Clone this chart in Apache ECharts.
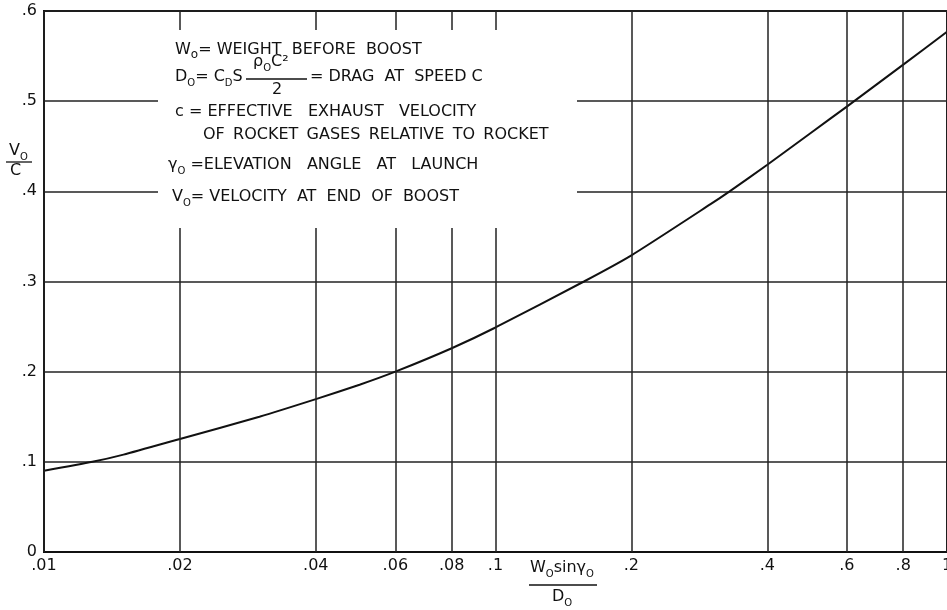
<!DOCTYPE html>
<html><head><meta charset="utf-8">
<script src="https://cdn.jsdelivr.net/npm/echarts@6/dist/echarts.min.js"></script>
<style>html,body{margin:0;padding:0;background:#fff}#c{width:947px;height:610px}</style>
</head><body><div id="c"></div>
<script>
// ---- data ----
const curveX = [0.01, 0.0128, 0.015, 0.02, 0.03, 0.04, 0.05, 0.06, 0.08, 0.1, 0.157, 0.2, 0.3, 0.33, 0.4, 0.5, 0.6, 0.8, 1.0];
const curveY = [0.090, 0.100, 0.108, 0.1254, 0.150, 0.1695, 0.1855, 0.200, 0.226, 0.249, 0.300, 0.329, 0.386, 0.400, 0.4295, 0.465, 0.494, 0.5405, 0.577];
const gridX = [0.01, 0.02, 0.04, 0.06, 0.08, 0.1, 0.2, 0.4, 0.6, 0.8, 1];
const xTickLabels = ['.01', '.02', '.04', '.06', '.08', '.1', '.2', '.4', '.6', '.8', '1'];
const yTickLabels = ['0', '.1', '.2', '.3', '.4', '.5', '.6'];

const FONT = 'DejaVu Sans';
const INK = '#111';
const rich = {
  n: { fontSize: 16, fontFamily: FONT, color: INK },
  s: { fontSize: 10, fontFamily: FONT, color: INK, padding: [12, 0, 0, 0] },
  w: { fontSize: 12, fontFamily: FONT, color: INK, padding: [10, 0, 0, 0] }
};
function txt(x, y, text, align) {
  return { type: 'text', x: x, y: y, z: 101,
    style: { text: text, rich: rich, fontSize: 16, fontFamily: FONT, fill: INK, align: align || 'left', verticalAlign: 'middle' } };
}
function bar(x1, x2, y) {
  return { type: 'line', z: 101, shape: { x1: x1, y1: y, x2: x2, y2: y }, style: { stroke: INK, lineWidth: 1.3 } };
}
const T = '\u2009';

const chart = echarts.init(document.getElementById('c'), null, { renderer: 'canvas' });
chart.setOption({
  animation: false,
  backgroundColor: '#fff',
  grid: { left: 44, right: -1, top: 11, bottom: 58, show: true, borderColor: INK, borderWidth: 2 },
  xAxis: {
    type: 'log', logBase: 10, min: 0.01, max: 1,
    axisLine: { show: true, lineStyle: { color: INK, width: 2 } },
    axisTick: { show: false }, axisLabel: { show: false }, splitLine: { show: false }
  },
  yAxis: {
    type: 'value', min: 0, max: 0.6, interval: 0.1,
    axisLine: { show: true, lineStyle: { color: INK, width: 2 } },
    axisTick: { show: false },
    axisLabel: { margin: 7, fontSize: 16, fontFamily: FONT, color: INK,
      formatter: function (v) { return yTickLabels[Math.round(v * 10)]; } },
    splitLine: { show: true, lineStyle: { color: '#222', width: 1.5 } }
  },
  series: [{
    type: 'line',
    data: curveX.map(function (x, i) { return [x, curveY[i]]; }),
    showSymbol: false, smooth: 0.2,
    lineStyle: { color: INK, width: 2 },
    markLine: {
      silent: true, symbol: 'none',
      lineStyle: { color: '#222', width: 1.5, type: 'solid' },
      label: { show: true, position: 'start', distance: 6, fontSize: 16, fontFamily: FONT, color: INK },
      data: gridX.map(function (v, i) { return { xAxis: v, label: { formatter: xTickLabels[i] } }; })
    }
  }],
  graphic: [
    { type: 'rect', z: 100, shape: { x: 158, y: 30, width: 419, height: 198 }, style: { fill: '#fff' } },
    txt(175, 50, '{n|W}{w|o}{n|= WEIGHT  BEFORE  BOOST}'),
    txt(175, 77, '{n|D}{s|O}{n|= C}{s|D}{n|S}'),
    txt(253, 62, '{n|ρ}{s|O}{n|C²}'),
    bar(246, 307, 79),
    txt(277, 90, '2', 'center'),
    txt(310, 77, '= DRAG  AT  SPEED C'),
    txt(175, 112, 'c = EFFECTIVE   EXHAUST   VELOCITY'),
    txt(203, 135, 'OF' + T + ' ROCKET' + T + ' GASES' + T + ' RELATIVE' + T + ' TO' + T + ' ROCKET'),
    txt(168, 165, '{n|γ}{s|O}{n| =ELEVATION   ANGLE   AT   LAUNCH}'),
    txt(172, 197, '{n|V}{s|O}{n|= VELOCITY  AT  END  OF  BOOST}'),
    // y axis name
    txt(9, 151, '{n|V}{s|O}'),
    bar(6, 32, 162),
    txt(10, 171, 'C'),
    // x axis name
    txt(530, 568, '{n|W}{s|O}{n|sin}{n|γ}{s|O}'),
    bar(529, 597, 585),
    txt(552, 597, '{n|D}{s|O}')
  ]
});
</script></body></html>
